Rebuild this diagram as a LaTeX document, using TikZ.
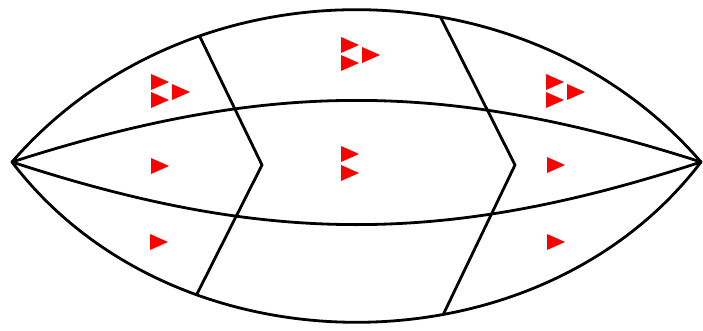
\documentclass[tikz,border=0pt]{standalone}
\usetikzlibrary{calc,intersections}
\tikzset{
  edge/.style={line width=2.8pt, black, line join=round, line cap=round},
  pics/flag/.style={code={\fill[red] (-1,-8) -- (17,0) -- (-1,8) -- cycle;}}
}
\begin{document}
\begin{tikzpicture}[x=1pt,y=-1pt]
\fill[white] (0,0) rectangle (703,331);
\useasboundingbox (0,0) rectangle (703,331);
\coordinate (L) at (12,162);
\coordinate (R) at (701,162);
% outer and inner arcs
\draw[edge, name path=topA] (L) to[bend left=49.1] (R);
\draw[edge, name path=botA] (L) to[bend right=52.7] (R);
\draw[edge, name path=upA] (L) to[bend left=17.8] (R);
\draw[edge, name path=loA] (L) to[bend right=18.1] (R);
% left broken meridian
\coordinate (K1) at (262,165);
\path[name path=r1t] (K1) -- ($(K1)!1.4!(200,37)$);
\path[name path=r1b] (K1) -- ($(K1)!1.4!(200,288)$);
\path[name intersections={of=topA and r1t, by=P1t}];
\path[name intersections={of=botA and r1b, by=P1b}];
\draw[edge] (P1t) -- (K1) -- (P1b);
% right broken meridian
\coordinate (K2) at (515,165);
\path[name path=r2t] (K2) -- ($(K2)!1.4!(440,16)$);
\path[name path=r2b] (K2) -- ($(K2)!1.4!(443,315)$);
\path[name intersections={of=topA and r2t, by=P2t}];
\path[name intersections={of=botA and r2b, by=P2b}];
\draw[edge] (P2t) -- (K2) -- (P2b);
% flags
\pic at (152,82) {flag};
\pic at (152,100) {flag};
\pic at (173,92) {flag};
\pic at (342,45) {flag};
\pic at (342,63) {flag};
\pic at (363,55) {flag};
\pic at (547,82) {flag};
\pic at (547,100) {flag};
\pic at (568,92) {flag};
\pic at (152,166) {flag};
\pic at (342,154) {flag};
\pic at (342,173) {flag};
\pic at (548,165) {flag};
\pic at (151,242) {flag};
\pic at (548,242) {flag};
\end{tikzpicture}
\end{document}
